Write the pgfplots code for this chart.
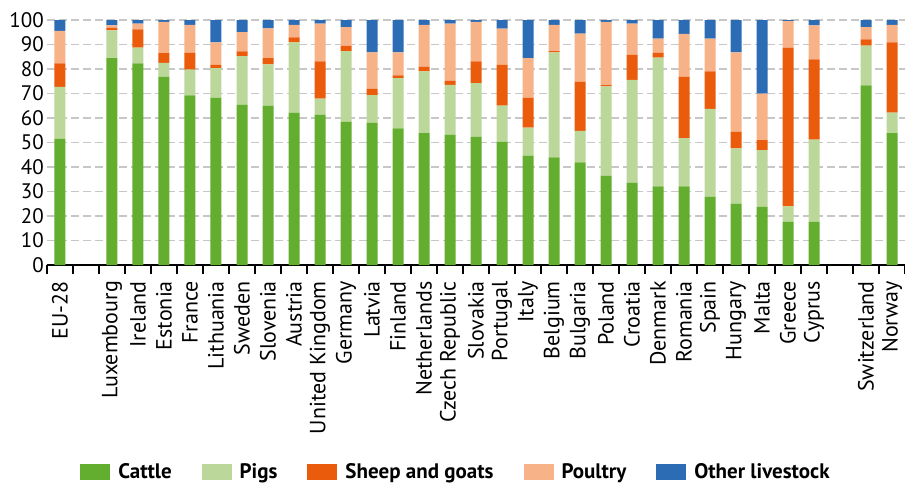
\documentclass[border=0pt]{standalone}
\usepackage{fontspec}
\setmainfont{PT Sans}
\usepackage{pgfplots}
\usepackage{pgfplotstable}
\pgfplotsset{compat=1.18}
\definecolor{cattle}{HTML}{63AD2F}
\definecolor{pigs}{HTML}{BCD79A}
\definecolor{sheep}{HTML}{EA5B0C}
\definecolor{poultry}{HTML}{F7B287}
\definecolor{other}{HTML}{2B6CB5}
\pgfplotstableread{
x cattle pigs sheep poultry other
0 51.6 21.1 9.6 13.3 4.4
2 84.4 11.4 1.1 0.9 2.2
3 82.3 6.4 7.5 2.3 1.5
4 76.8 5.7 4.0 12.7 0.8
5 69.2 10.5 6.9 11.4 2.0
6 68.3 12.1 1.3 9.2 9.1
7 65.5 19.8 1.9 7.9 4.9
8 65.1 16.8 2.5 12.2 3.4
9 62.2 28.7 2.0 5.1 2.0
10 61.4 6.5 15.2 15.4 1.5
11 58.5 28.8 2.1 7.7 2.9
12 58.0 11.3 2.7 14.8 13.2
13 55.8 20.5 1.1 9.4 13.2
14 53.8 25.2 2.0 17.0 2.0
15 53.2 20.3 1.8 23.2 1.5
16 52.4 21.8 8.9 16.1 0.8
17 50.3 14.8 16.6 14.8 3.5
18 44.6 11.5 12.2 16.1 15.6
19 43.9 42.9 0.5 10.7 2.0
20 41.9 12.8 20.1 19.6 5.6
21 36.4 36.5 0.5 25.8 0.8
22 33.6 42.0 10.3 12.6 1.5
23 32.1 52.5 2.0 5.8 7.6
24 32.1 19.7 25.1 17.4 5.7
25 27.8 35.9 15.3 13.4 7.6
26 25.1 22.5 6.8 32.4 13.2
27 23.7 23.2 4.1 19.0 30.0
28 17.6 6.3 64.8 10.8 0.5
29 17.6 33.6 32.7 13.9 2.2
31 73.3 16.2 2.6 5.0 2.9
32 53.8 8.4 28.7 7.1 2.0
}\datatable
\begin{document}
\begin{tikzpicture}
\useasboundingbox (-47pt,-220pt) rectangle (858pt,265pt);
\begin{axis}[
  at={(0pt,0pt)}, anchor=south west,
  scale only axis, width=858pt, height=245pt,
  xmin=-0.5, xmax=32.5, ymin=0, ymax=100,
  ybar stacked, bar width=11pt,
  axis lines*=left,
  x axis line style={-, line width=2pt, black},
  y axis line style={draw=none},
  tick align=outside,
  xtick={0,2,3,4,5,6,7,8,9,10,11,12,13,14,15,16,17,18,19,20,21,22,23,24,25,26,27,28,29,31,32},
  xticklabels={EU-28,Luxembourg,Ireland,Estonia,France,Lithuania,Sweden,Slovenia,Austria,United Kingdom,Germany,Latvia,Finland,Netherlands,Czech Republic,Slovakia,Portugal,Italy,Belgium,Bulgaria,Poland,Croatia,Denmark,Romania,Spain,Hungary,Malta,Greece,Cyprus,Switzerland,Norway},
  minor xtick={-0.5,0.5,...,32.5},
  major x tick style={draw=none},
  minor x tick style={line width=2pt, black},
  minor tick length=9pt,
  major tick length=0pt,
  ytick={0,10,...,100},
  ytick style={draw=none},
  ymajorgrids,
  grid style={dashed, color=black!22, line width=1.2pt, dash pattern=on 8pt off 4pt},
  xticklabel shift=16pt,
  xticklabel style={rotate=90, anchor=east, font=\fontsize{22}{26}\selectfont, inner sep=0pt},
  yticklabel style={font=\fontsize{21}{25}\selectfont, xshift=-2pt, inner sep=1pt},
  /pgf/number format/assume math mode=true,
  legend columns=5,
  legend style={at={(axis description cs:0.4767,-0.845)}, anchor=center, draw=none,
    font=\fontsize{21}{25}\selectfont\bfseries, inner sep=0pt,
    /tikz/every odd column/.append style={column sep=6pt},
    /tikz/every even column/.append style={column sep=28pt}},
  legend image code/.code={\path[#1, draw=none] (0pt,-8pt) rectangle (30pt,8pt);},
  clip=false,
]
\addplot[fill=cattle, draw=none] table[x=x, y=cattle] {\datatable};
\addplot[fill=pigs, draw=none] table[x=x, y=pigs] {\datatable};
\addplot[fill=sheep, draw=none] table[x=x, y=sheep] {\datatable};
\addplot[fill=poultry, draw=none] table[x=x, y=poultry] {\datatable};
\addplot[fill=other, draw=none] table[x=x, y=other] {\datatable};
\legend{Cattle, Pigs, Sheep and goats, Poultry, Other livestock}
\end{axis}
\end{tikzpicture}
\end{document}
